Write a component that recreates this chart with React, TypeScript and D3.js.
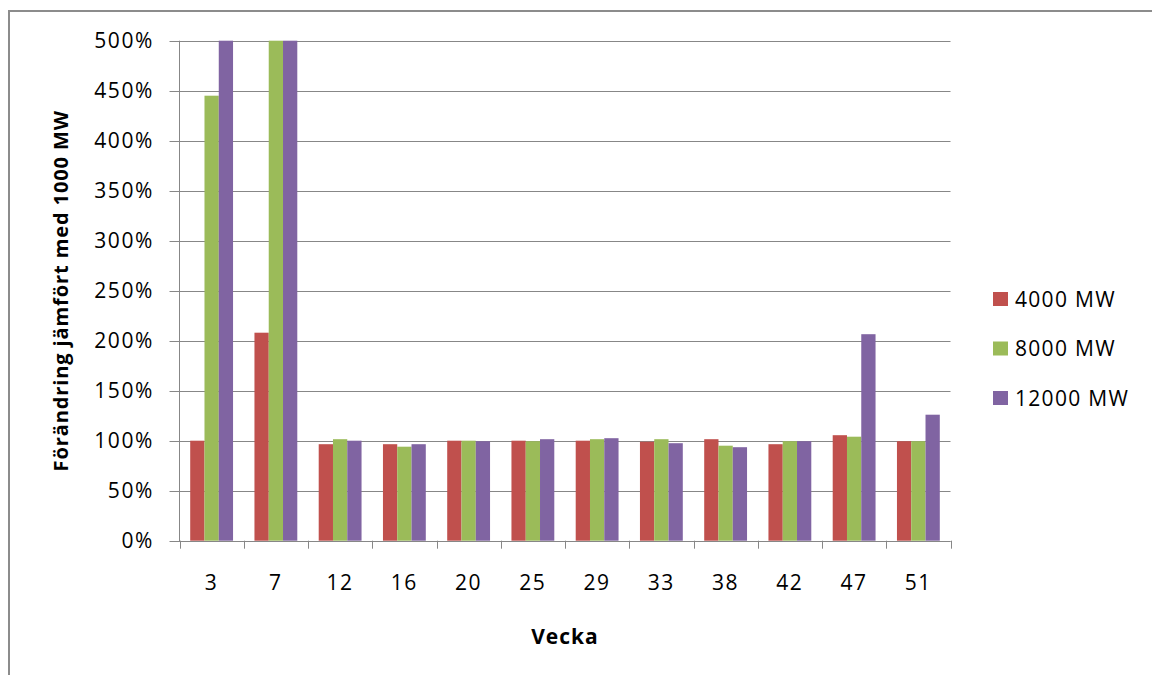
import React from "react";
import * as d3 from "d3";

const weeks = ["3", "7", "12", "16", "20", "25", "29", "33", "38", "42", "47", "51"];
const seriesNames = ["4000 MW", "8000 MW", "12000 MW"];
const seriesColors = ["#C0504D", "#9BBB59", "#8064A2"];
// values in percent (values above 500 are cut off at the top of the chart)
const mw4000 = [100, 208, 96.5, 96.5, 100, 100, 100, 99, 101.5, 96.5, 105.5, 99.5];
const mw8000 = [445, 520, 101.5, 94, 100, 99.5, 101.5, 101.5, 95, 99.5, 104, 99.5];
const mw12000 = [520, 520, 100, 96.5, 99.5, 101.5, 102.5, 97.5, 93.5, 99.5, 206.5, 126];
const yTicks = [0, 50, 100, 150, 200, 250, 300, 350, 400, 450, 500];

const FONT = "'Open Sans', 'Noto Sans', sans-serif";

export default function App() {
  const W = 1152;
  const H = 675;
  const left = 179.5;
  const right = 950.5;
  const top = 40.7;
  const bottom = 540.7;

  const values = [mw4000, mw8000, mw12000];
  const x0 = d3.scaleBand<string>().domain(weeks).range([left, right]).padding(0);
  const bw = x0.bandwidth();
  const x1 = d3
    .scaleBand<string>()
    .domain(seriesNames)
    .range([bw / 6, (bw * 5) / 6])
    .padding(0);
  const y = d3.scaleLinear().domain([0, 500]).range([bottom, top]).clamp(true);

  const legendY = d3.scalePoint<string>().domain(seriesNames).range([299, 398]);

  return (
    <svg
      width={W}
      height={H}
      style={{ position: "absolute", left: 0, top: 0, background: "#fff" }}
      fontFamily={FONT}
    >
      <rect x={0} y={0} width={W} height={H} fill="#fff" />
      <rect x={9} y={11} width={W + 20} height={H + 20} fill="none" stroke="#8c8c8c" strokeWidth={2} />

      {/* gridlines */}
      {yTicks.map((t) => (
        <line
          key={"g" + t}
          x1={left - 10}
          x2={right}
          y1={Math.round(y(t)) + 0.5}
          y2={Math.round(y(t)) + 0.5}
          stroke="#878787"
          strokeWidth={1}
        />
      ))}
      {/* y tick labels */}
      {yTicks.map((t) => (
        <text
          key={"yt" + t}
          x={154}
          y={y(t)}
          dy="0.36em"
          textAnchor="end"
          fontSize={21}
          letterSpacing={1.6}
          fill="#000"
        >
          {t + "%"}
        </text>
      ))}

      {/* bars */}
      {weeks.map((w, i) => (
        <g key={"c" + w} transform={`translate(${x0(w)},0)`}>
          {seriesNames.map((s, k) => {
            const v = values[k][i];
            return (
              <rect
                key={s}
                x={x1(s)}
                y={y(v)}
                width={x1.bandwidth()}
                height={y(0) - y(v)}
                fill={seriesColors[k]}
              />
            );
          })}
        </g>
      ))}

      {/* axes */}
      <line x1={left} x2={left} y1={top} y2={bottom + 0.5} stroke="#878787" strokeWidth={1} />
      <line x1={left} x2={right} y1={Math.round(bottom) + 0.5} y2={Math.round(bottom) + 0.5} stroke="#878787" strokeWidth={1} />
      {[...weeks, "__end"].map((w, i) => {
        const xx = i < weeks.length ? (x0(w) as number) : right;
        return (
          <line
            key={"xt" + i}
            x1={Math.round(xx) + 0.5}
            x2={Math.round(xx) + 0.5}
            y1={bottom}
            y2={bottom + 8}
            stroke="#878787"
            strokeWidth={1}
          />
        );
      })}
      {weeks.map((w) => (
        <text
          key={"xl" + w}
          x={(x0(w) as number) + bw / 2}
          y={590}
          textAnchor="middle"
          fontSize={21}
          letterSpacing={1.6}
          fill="#000"
        >
          {w}
        </text>
      ))}

      {/* axis titles */}
      <text x={(left + right) / 2} y={644} textAnchor="middle" fontSize={21} fontWeight="bold" letterSpacing={1} fill="#000">
        Vecka
      </text>
      <text
        transform={`translate(68,${(top + bottom) / 2}) rotate(-90)`}
        textAnchor="middle"
        fontSize={20}
        fontWeight="bold"
        letterSpacing={0.9}
        fill="#000"
      >
        Förändring jämfört med 1000 MW
      </text>

      {/* legend */}
      {seriesNames.map((s, k) => (
        <g key={"lg" + s} transform={`translate(993,${legendY(s)})`}>
          <rect x={0} y={-7} width={15} height={14} fill={seriesColors[k]} />
          <text x={22} y={0} dy="0.36em" fontSize={21} letterSpacing={1.3} fill="#000">
            {s}
          </text>
        </g>
      ))}
    </svg>
  );
}
